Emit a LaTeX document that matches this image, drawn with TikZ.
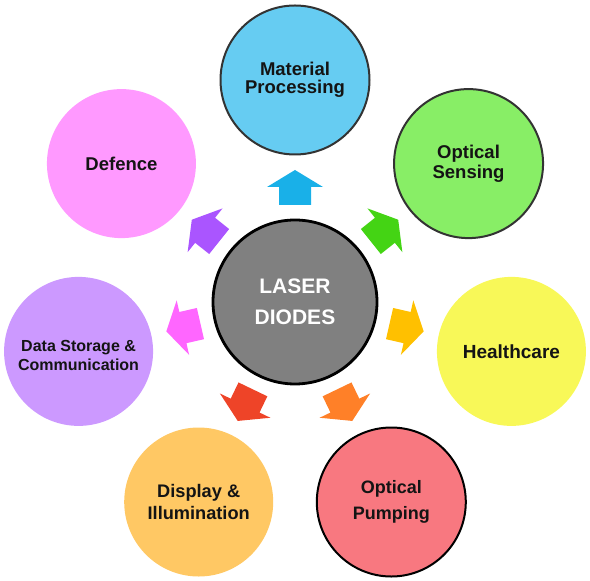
\documentclass[tikz,border=0pt]{standalone}
\usepackage{fontspec}
\setmainfont{Liberation Sans}
\usetikzlibrary{calc}
\begin{document}
\begin{tikzpicture}[x=1pt,y=1pt,
  app/.style={circle, minimum size=149pt, inner sep=0pt, align=center, text=black!92, font=\bfseries\fontsize{18.5}{18.5}\selectfont},
  bordered/.style={draw=#1, line width=2pt},
  blockarrow/.style={fill=#1}]
\useasboundingbox (0,0) rectangle (590,581);
\definecolor{cMP}{HTML}{66CCF2}
\definecolor{cOS}{HTML}{88EE66}
\definecolor{cHC}{HTML}{F8F858}
\definecolor{cOP}{HTML}{F87880}
\definecolor{cDI}{HTML}{FFC864}
\definecolor{cDS}{HTML}{CC99FF}
\definecolor{cDF}{HTML}{FF99FF}
\definecolor{aMP}{HTML}{19B0E8}
\definecolor{aOS}{HTML}{44D414}
\definecolor{aHC}{HTML}{FFC000}
\definecolor{aOP}{HTML}{FF8028}
\definecolor{aDI}{HTML}{EE4428}
\definecolor{aDS}{HTML}{FF66FF}
\definecolor{aDF}{HTML}{AA55FF}
\coordinate (c) at (295,279);
% arrows
\foreach \ang/\col in {90/aMP, 38.57/aOS, -12.86/aHC, -64.29/aOP, -115.71/aDI, -167.14/aDS, 141.43/aDF}{
  \fill[blockarrow=\col, shift={(c)}, rotate=\ang]
    (97,-16) -- (115,-16) -- (115,-28) -- (132,0) -- (115,28) -- (115,16) -- (97,16) -- cycle;
}
% center
\node[circle, minimum size=164pt, inner sep=0pt, fill=black!50, draw=black, line width=2.8pt,
      text=white, align=center, font=\bfseries\fontsize{21}{31}\selectfont] (ld) at (c) {LASER\\DIODES};
% application circles
\node[app, fill=cMP, bordered=black!80] (mp) at ($(c)+(90:222)$) {Material\\Processing};
\node[app, fill=cOS, bordered=black!80, font=\bfseries\fontsize{18.5}{19.5}\selectfont] (os) at ($(c)+(38.57:222)$) {Optical\\Sensing};
\node[app, fill=cHC, font=\bfseries\fontsize{19}{19}\selectfont] (hc) at ($(c)+(-12.86:222)$) {Healthcare};
\node[app, fill=cOP, bordered=black, font=\bfseries\fontsize{18}{26.7}\selectfont] (op) at ($(c)+(-64.29:222)$) {Optical\\Pumping};
\node[app, fill=cDI, font=\bfseries\fontsize{18.2}{21.7}\selectfont] (di) at ($(c)+(-115.71:222)$) {Display \&\\Illumination};
\node[app, fill=cDS, font=\bfseries\fontsize{16}{19.3}\selectfont] (ds) at ($(c)+(-167.14:222)$) {};
\node[text=black!92, align=center, font=\bfseries\fontsize{16}{19.3}\selectfont] (dst) at ($(ds.center)+(0,-4)$) {Data Storage \&\\Communication};
\node[app, fill=cDF] (df) at ($(c)+(141.43:222)$) {Defence};
\end{tikzpicture}
\end{document}
